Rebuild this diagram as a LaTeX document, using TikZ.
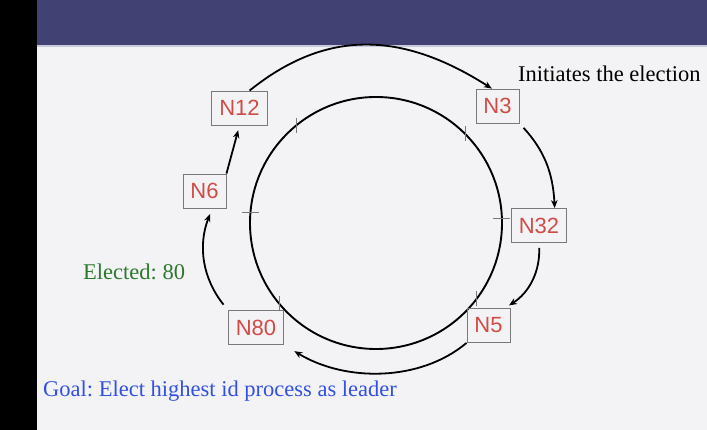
\documentclass[tikz,border=0pt]{standalone}
\usepackage{fontspec}
\setmainfont{Liberation Serif}
\setsansfont{Liberation Sans}
\usetikzlibrary{arrows.meta}
\frenchspacing
\definecolor{slideblue}{RGB}{66,65,115}
\definecolor{slideline}{RGB}{200,203,220}
\definecolor{slidebg}{RGB}{243,243,245}
\definecolor{idred}{RGB}{208,76,70}
\definecolor{notegreen}{RGB}{45,120,45}
\definecolor{goalblue}{RGB}{50,80,225}
\definecolor{boxgray}{RGB}{120,120,120}
\tikzset{
    procbox/.style={draw=boxgray,line width=0.8pt,text=idred,font=\sffamily\fontsize{22}{26}\selectfont,minimum height=34pt,inner xsep=7.5pt,inner ysep=0pt},
    ringline/.style={draw,circle,line width=1.9pt,minimum size=252pt,inner sep=0pt,outer sep=0pt},
    ringtick/.style={draw=boxgray,line width=0.8pt},
    passarrow/.style={->,line width=1.8pt},
    slidetext/.style={font=\fontsize{22.5}{27}\selectfont,anchor=base west,inner sep=0pt}
}

\begin{document}
\begin{tikzpicture}[x=1pt,y=1pt,>={Stealth[length=8pt,width=6.5pt]}]
    \useasboundingbox (0,0) rectangle (707,430);
    % Slide
    \fill[slidebg] (0,0) rectangle (707,430);
    \fill[black] (0,0) rectangle (37,430);
    \fill[slideblue] (37,385) rectangle (707,430);
    \draw[slideline,line width=1.5pt] (37,384) -- (707,384);
    % Ring
    \node[ringline] (ring) at (376,207) {};
    \foreach \a in {129,45,220,323}
        \draw[ringtick] ([yshift=-7.5pt]ring.\a) -- ([yshift=7.5pt]ring.\a);
    \foreach \a in {2,175}
        \draw[ringtick] ([xshift=-8.5pt]ring.\a) -- ([xshift=8.5pt]ring.\a);
    % Processes
    \node[procbox] (n12) at (239.5,322) {N12};
    \node[procbox] (n3) at (497.5,324) {N3};
    \node[procbox] (n32) at (539,204.5) {N32};
    \node[procbox] (n5) at (488.5,104.5) {N5};
    \node[procbox] (n80) at (256,102.5) {N80};
    \node[procbox] (n6) at (204.5,239) {N6};
    % Election message around the ring
    \draw[passarrow] (n12.60) .. controls (325,400) and (400,400) .. (n3.108);
    \draw[passarrow,shorten <=6pt] (n3.south east) to[bend left=20] (n32.48);
    \draw[passarrow,shorten <=5pt,shorten >=5pt] (n32.south) to[bend left=30] (n5.47);
    \draw[passarrow,shorten >=12pt] (n5.south west) .. controls (420,48) and (345,48) .. (n80.south east);
    \draw[passarrow,shorten <=7pt,shorten >=6pt] (n80.north west) to[bend left=30] (n6.-66);
    \draw[passarrow,shorten >=5pt] (n6.north east) -- (n12.south);
    % Notes
    \node[slidetext] (init) at (518,348) {Initiates the election};
    \node[slidetext,text=notegreen] (elected) at (83,150) {Elected: 80};
    \node[slidetext,text=goalblue] (goal) at (43,33) {Goal: Elect highest id process as leader};
\end{tikzpicture}
\end{document}
